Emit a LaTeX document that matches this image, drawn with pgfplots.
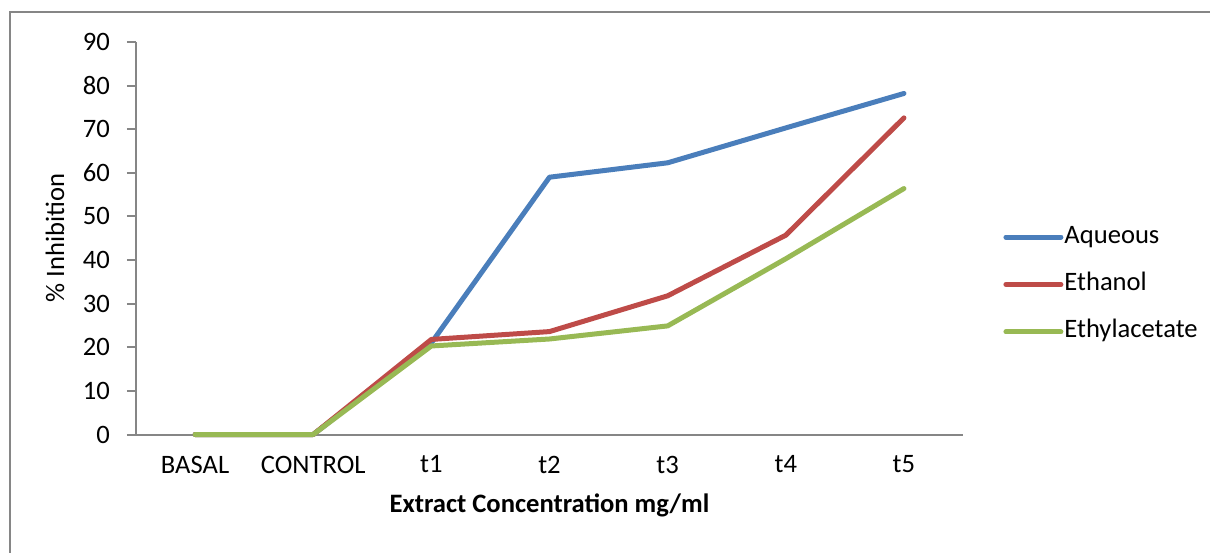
\documentclass[border=0pt]{standalone}
\usepackage{fontspec}
\setmainfont{Carlito}
\usepackage{pgfplots}
\pgfplotsset{compat=1.18}
\definecolor{aq}{RGB}{74,126,187}
\definecolor{et}{RGB}{190,75,72}
\definecolor{ea}{RGB}{152,185,84}
\definecolor{ax}{RGB}{134,134,134}
\begin{document}
\fontsize{13.3pt}{16pt}\selectfont
\begin{tikzpicture}
\begin{axis}[overlay, scale only axis,
  width=413.5pt, height=196.25pt,
  xmin=-0.5, xmax=6.5, ymin=0, ymax=90,
  ytick={0,10,...,90}, xtick={0,1,2,3,4,5,6},
  xticklabels={BASAL,CONTROL,t1,t2,t3,t4,t5},
  axis x line=bottom, axis y line=left,
  axis line style={ax, line width=1pt, -},
  x tick style={draw=none}, y tick style={ax, line width=1pt},
  tick align=outside, major tick length=4.5pt,
  /pgf/number format/assume math mode=true,
  ticklabel style={font=\fontsize{13.3pt}{16pt}\selectfont},
  xticklabel style={yshift=-1.5pt},
  yticklabel style={xshift=-4pt},
  every axis y label/.style={at={(-0.098,0.5)}, rotate=90, anchor=center},
  every axis x label/.style={at={(0.5,-0.1796)}, anchor=center},
  ylabel={\% Inhibition},
  xlabel={\textbf{Extract Concentration mg/ml}},
  legend style={at={(1.0484,0.3822)}, anchor=west, draw=none, fill=none,
    inner sep=0pt, row sep=11.1pt, column sep=0.5pt,
    nodes={inner sep=0pt, text height=0.7em, text depth=0.25em, anchor=west,
      font=\fontsize{13.3pt}{16pt}\selectfont}},
  legend cell align=left,
  legend image code/.code={\draw[#1] (0pt,0pt) -- (27.5pt,0pt);},
  every axis plot/.append style={line width=2.5pt, line cap=round, line join=round},
  clip=false,
]
\addplot[aq] coordinates {(0,0) (1,0) (2,21) (3,59.0) (4,62.3) (5,70.3) (6,78.2)};
\addlegendentry{Aqueous}
\addplot[et] coordinates {(0,0) (1,0) (2,21.8) (3,23.6) (4,31.8) (5,45.7) (6,72.6)};
\addlegendentry{Ethanol}
\addplot[ea] coordinates {(0,0) (1,0) (2,20.3) (3,21.9) (4,24.9) (5,40.3) (6,56.4)};
\addlegendentry{Ethylacetate}
\coordinate (A) at (rel axis cs:0,0);
\end{axis}
\useasboundingbox ([xshift=-68pt,yshift=-58.75pt]A) rectangle ++(605pt,276pt);
\draw[ax, line width=1pt] ([xshift=-63pt,yshift=-61.25pt]A) -- ([xshift=-63pt,yshift=211.25pt]A) -- ([xshift=539.5pt,yshift=211.25pt]A);
\end{tikzpicture}
\end{document}
